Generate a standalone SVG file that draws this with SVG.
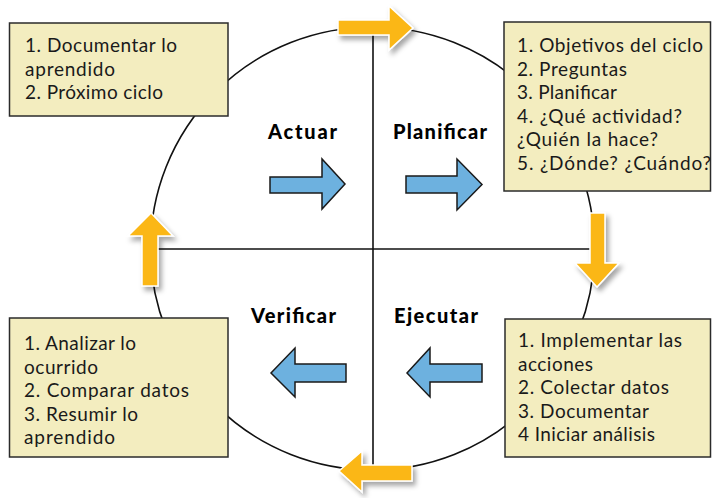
<svg xmlns="http://www.w3.org/2000/svg" width="712" height="498" viewBox="0 0 712 498">
<defs>
<style>
.box{fill:#F3EDBF;stroke:#2b2b2b;stroke-width:1.5}
.txt{font-family:Lato,"Noto Sans",sans-serif;font-size:19px;fill:#1a1a1a}
.lbl{font-family:Lato,"Noto Sans",sans-serif;font-size:20px;font-weight:900;fill:#000}
.blue{fill:#6DB1DF;stroke:#1a1a1a;stroke-width:1.5;stroke-linejoin:miter}
.orange{fill:#FBB716;stroke:#ffffff;stroke-width:1.5;filter:url(#sh)}
.ln{fill:none;stroke:#111;stroke-width:1.6}
</style>
<filter id="sh" x="-30%" y="-30%" width="160%" height="160%">
<feDropShadow dx="3" dy="4" stdDeviation="2.5" flood-color="#000" flood-opacity="0.35"/>
</filter>
</defs>
<rect width="712" height="498" fill="#fff"/>
<g id="connectors">
<ellipse class="ln" cx="372.5" cy="248.5" rx="222" ry="221.5"/>
<line class="ln" x1="373" y1="30" x2="373" y2="465"/>
<line class="ln" x1="152" y1="249" x2="592" y2="249"/>
<polygon class="blue" points="270,177 322,177 322,159 345,184 322,209 322,193 270,193"/>
<polygon class="blue" points="406,176 457,176 457,159 482,184.5 457,210 457,193 406,193"/>
<polygon class="blue" points="346,364 295,364 295,348 271,373 295,397 295,382 346,382"/>
<polygon class="blue" points="482,364 430,364 430,348 407,373 430,397 430,382 482,382"/>
<polygon class="orange" points="338,20 389,20 389,6 413,28 389,50 389,35 338,35"/>
<polygon class="orange" points="590,213 605,213 605,263 619,263 597,287 575,263 590,263"/>
<polygon class="orange" points="412,465 362,465 362,451 339,471 362,492 362,481 412,481"/>
<polygon class="orange" points="151,213 173,236 158,236 158,286 142,286 142,236 128,236"/>
</g>
<g id="actuar"><text class="lbl" x="268" y="139" textLength="69">Actuar</text></g>
<g id="planificar"><text class="lbl" x="393" y="139" textLength="94">Planificar</text></g>
<g id="verificar"><text class="lbl" x="251" y="323" textLength="85">Verificar</text></g>
<g id="ejecutar"><text class="lbl" x="394" y="323" textLength="84">Ejecutar</text></g>
<g id="box-actuar">
<rect class="box" x="9.5" y="23" width="218.5" height="93"/>
<text class="txt" x="25" y="52" textLength="152">1. Documentar lo</text>
<text class="txt" x="25" y="75.5" textLength="90">aprendido</text>
<text class="txt" x="25" y="99" textLength="138">2. Próximo ciclo</text>
</g>
<g id="box-planificar">
<rect class="box" x="504" y="22" width="206.5" height="169"/>
<text class="txt" x="517" y="52" textLength="186">1. Objetivos del ciclo</text>
<text class="txt" x="517" y="75.5" textLength="110">2. Preguntas</text>
<text class="txt" x="517" y="99" textLength="100">3. Planificar</text>
<text class="txt" x="517" y="122.5" textLength="165">4. ¿Qué actividad?</text>
<text class="txt" x="517" y="146" textLength="141">¿Quién la hace?</text>
<text class="txt" x="517" y="169.5" textLength="194">5. ¿Dónde? ¿Cuándo?</text>
</g>
<g id="box-verificar">
<rect class="box" x="9.5" y="318" width="218.5" height="139"/>
<text class="txt" x="24" y="350" textLength="112">1. Analizar lo</text>
<text class="txt" x="24" y="373.5" textLength="74">ocurrido</text>
<text class="txt" x="24" y="397" textLength="165">2. Comparar datos</text>
<text class="txt" x="24" y="420.5" textLength="114">3. Resumir lo</text>
<text class="txt" x="24" y="444" textLength="91">aprendido</text>
</g>
<g id="box-ejecutar">
<rect class="box" x="505" y="319" width="205.5" height="138"/>
<text class="txt" x="518" y="347" textLength="164">1. Implementar las</text>
<text class="txt" x="518" y="370.5" textLength="75">acciones</text>
<text class="txt" x="518" y="394" textLength="151">2. Colectar datos</text>
<text class="txt" x="518" y="417.5" textLength="131">3. Documentar</text>
<text class="txt" x="518" y="441" textLength="137">4 Iniciar análisis</text>
</g>
</svg>
